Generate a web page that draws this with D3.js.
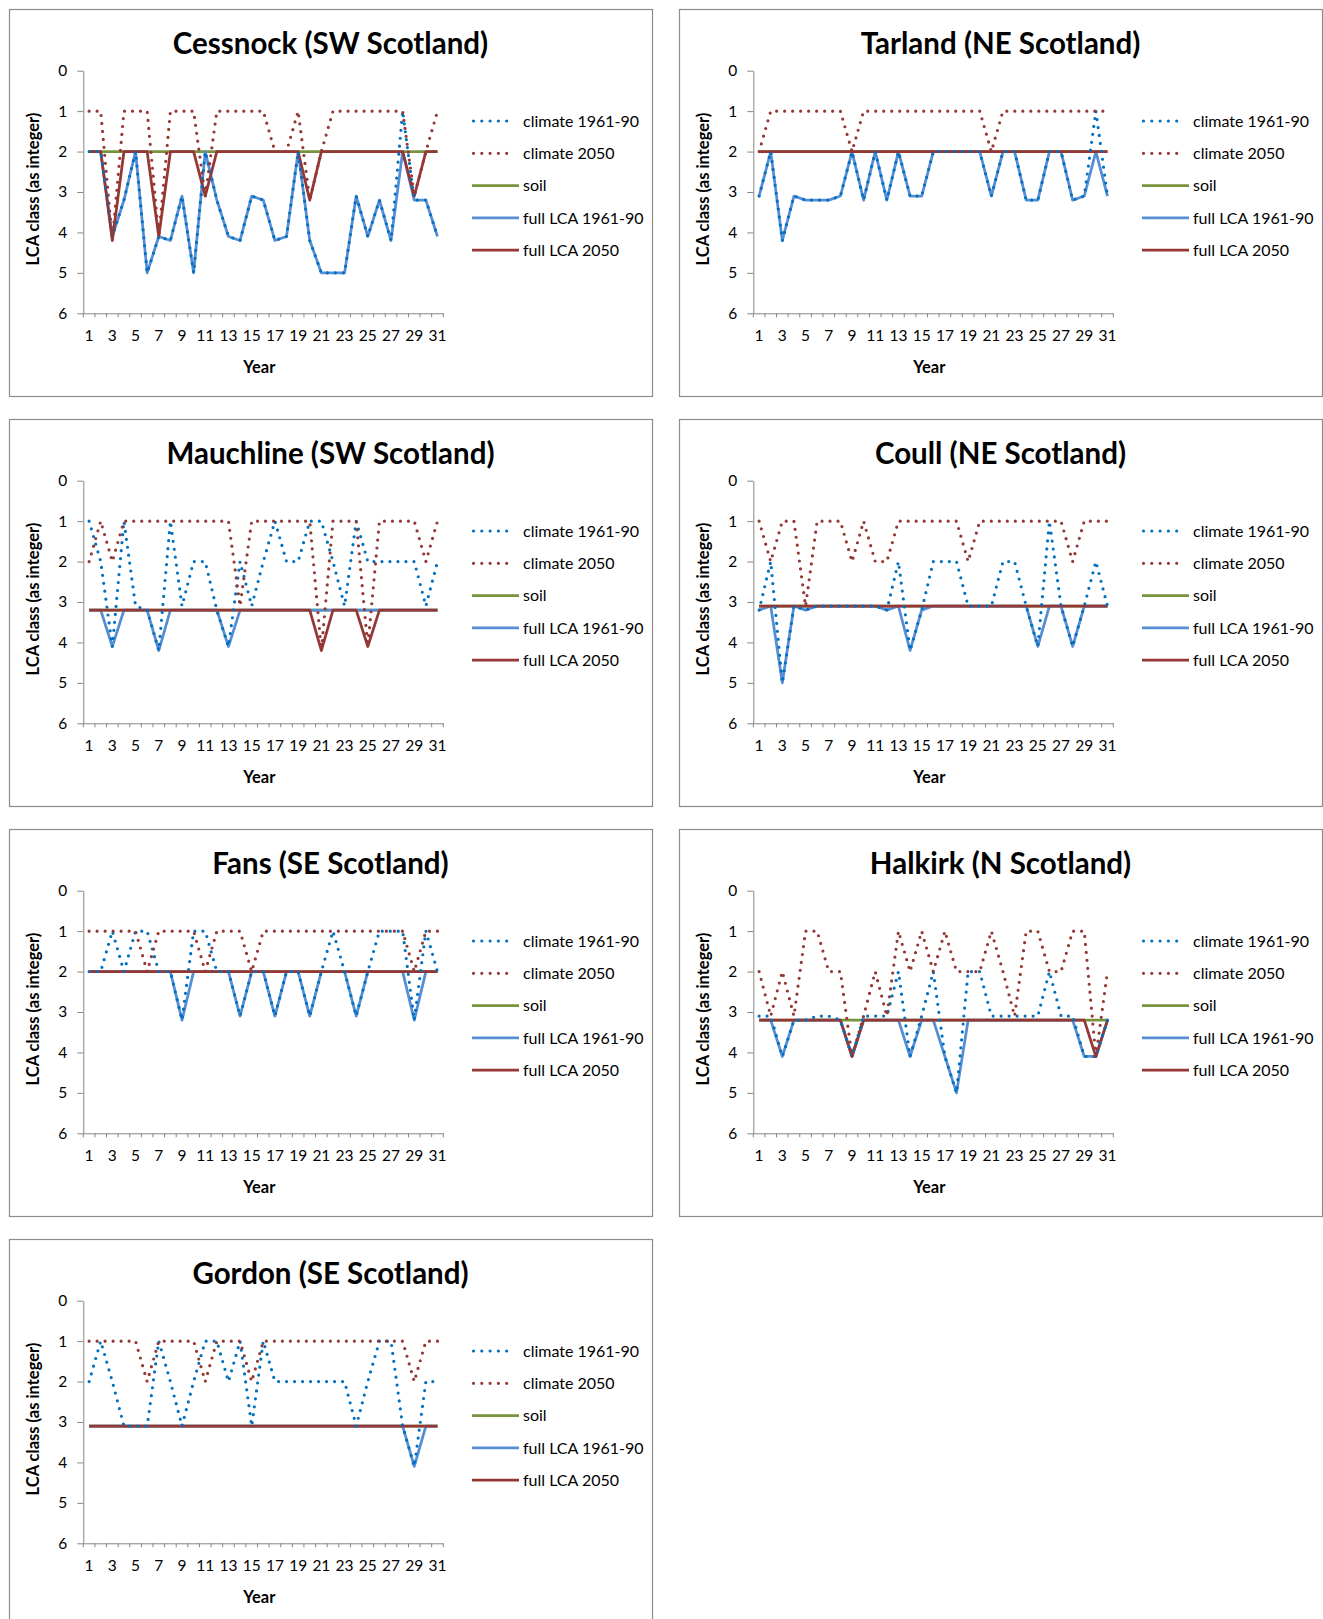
<!DOCTYPE html>
<html>
<head>
<meta charset="utf-8">
<script src="https://cdn.jsdelivr.net/npm/d3@7"></script>
<style>
  body { margin: 0; background: #fff; }
  svg { display: block; font-family: Lato, "Open Sans", sans-serif; }
</style>
</head>
<body>
<div id="chart"></div>
<script>
// categories
var years = [1,2,3,4,5,6,7,8,9,10,11,12,13,14,15,16,17,18,19,20,21,22,23,24,25,26,27,28,29,30,31];
var yTicks = [0,1,2,3,4,5,6];
var seriesNames = ["climate 1961-90", "climate 2050", "soil", "full LCA 1961-90", "full LCA 2050"];

// Cessnock (SW Scotland)
var cessnockClim6190 = [2,2,4.1,3.2,2,5,4.1,4.2,3.1,5,2,3.2,4.1,4.2,3.1,3.2,4.2,4.1,2,4.2,5,5,5,3.1,4.1,3.2,4.2,1,3.2,3.2,4.1];
var cessnockClim2050 = [1,1,4.2,1,1,1,4.1,1,1,1,3.1,1,1,1,1,1,2,2,1,3.2,2,1,1,1,1,1,1,1,3.1,2,1];
var cessnockSoil     = [2,2,2,2,2,2,2,2,2,2,2,2,2,2,2,2,2,2,2,2,2,2,2,2,2,2,2,2,2,2,2];
var cessnockFull6190 = [2,2,4.1,3.2,2,5,4.1,4.2,3.1,5,2,3.2,4.1,4.2,3.1,3.2,4.2,4.1,2,4.2,5,5,5,3.1,4.1,3.2,4.2,2,3.2,3.2,4.1];
var cessnockFull2050 = [2,2,4.2,2,2,2,4.1,2,2,2,3.1,2,2,2,2,2,2,2,2,3.2,2,2,2,2,2,2,2,2,3.1,2,2];

// Tarland (NE Scotland)
var tarlandClim6190 = [3.1,2,4.2,3.1,3.2,3.2,3.2,3.1,2,3.2,2,3.2,2,3.1,3.1,2,2,2,2,2,3.1,2,2,3.2,3.2,2,2,3.2,3.1,1,3.1];
var tarlandClim2050 = [2,1,1,1,1,1,1,1,2,1,1,1,1,1,1,1,1,1,1,1,2,1,1,1,1,1,1,1,1,1,1];
var tarlandSoil     = [2,2,2,2,2,2,2,2,2,2,2,2,2,2,2,2,2,2,2,2,2,2,2,2,2,2,2,2,2,2,2];
var tarlandFull6190 = [3.1,2,4.2,3.1,3.2,3.2,3.2,3.1,2,3.2,2,3.2,2,3.1,3.1,2,2,2,2,2,3.1,2,2,3.2,3.2,2,2,3.2,3.1,2,3.1];
var tarlandFull2050 = [2,2,2,2,2,2,2,2,2,2,2,2,2,2,2,2,2,2,2,2,2,2,2,2,2,2,2,2,2,2,2];

// Mauchline (SW Scotland)
var mauchlineClim6190 = [1,2,4.1,1,3.1,3.2,4.2,1,3.1,2,2,3.2,4.1,2,3.1,2,1,2,2,1,1,2,3.1,1,2,2,2,2,2,3.1,2];
var mauchlineClim2050 = [2,1,2,1,1,1,1,1,1,1,1,1,1,3.1,1,1,1,1,1,1,4.2,1,1,1,4.1,1,1,1,1,2,1];
var mauchlineSoil     = [3.2,3.2,3.2,3.2,3.2,3.2,3.2,3.2,3.2,3.2,3.2,3.2,3.2,3.2,3.2,3.2,3.2,3.2,3.2,3.2,3.2,3.2,3.2,3.2,3.2,3.2,3.2,3.2,3.2,3.2,3.2];
var mauchlineFull6190 = [3.2,3.2,4.1,3.2,3.2,3.2,4.2,3.2,3.2,3.2,3.2,3.2,4.1,3.2,3.2,3.2,3.2,3.2,3.2,3.2,3.2,3.2,3.2,3.2,3.2,3.2,3.2,3.2,3.2,3.2,3.2];
var mauchlineFull2050 = [3.2,3.2,3.2,3.2,3.2,3.2,3.2,3.2,3.2,3.2,3.2,3.2,3.2,3.2,3.2,3.2,3.2,3.2,3.2,3.2,4.2,3.2,3.2,3.2,4.1,3.2,3.2,3.2,3.2,3.2,3.2];

// Coull (NE Scotland)
var coullClim6190 = [3.2,2,5,3.1,3.2,3.1,3.1,3.1,3.1,3.1,3.1,3.2,2,4.2,3.2,2,2,2,3.1,3.1,3.1,2,2,3.1,4.1,1,3.1,4.1,3.1,2,3.1];
var coullClim2050 = [1,2,1,1,3.1,1,1,1,2,1,2,2,1,1,1,1,1,1,2,1,1,1,1,1,1,1,1,2,1,1,1];
var coullSoil     = [3.1,3.1,3.1,3.1,3.1,3.1,3.1,3.1,3.1,3.1,3.1,3.1,3.1,3.1,3.1,3.1,3.1,3.1,3.1,3.1,3.1,3.1,3.1,3.1,3.1,3.1,3.1,3.1,3.1,3.1,3.1];
var coullFull6190 = [3.2,3.1,5,3.1,3.2,3.1,3.1,3.1,3.1,3.1,3.1,3.2,3.1,4.2,3.2,3.1,3.1,3.1,3.1,3.1,3.1,3.1,3.1,3.1,4.1,3.1,3.1,4.1,3.1,3.1,3.1];
var coullFull2050 = [3.1,3.1,3.1,3.1,3.1,3.1,3.1,3.1,3.1,3.1,3.1,3.1,3.1,3.1,3.1,3.1,3.1,3.1,3.1,3.1,3.1,3.1,3.1,3.1,3.1,3.1,3.1,3.1,3.1,3.1,3.1];

// Fans (SE Scotland)
var fansClim6190 = [2,2,1,2,1,1,2,2,3.2,1,1,2,2,3.1,2,2,3.1,2,2,3.1,2,1,2,3.1,2,1,1,1,3.2,1,2];
var fansClim2050 = [1,1,1,1,1,2,1,1,1,1,2,1,1,1,2,1,1,1,1,1,1,1,1,1,1,1,1,1,2,1,1];
var fansSoil     = [2,2,2,2,2,2,2,2,2,2,2,2,2,2,2,2,2,2,2,2,2,2,2,2,2,2,2,2,2,2,2];
var fansFull6190 = [2,2,2,2,2,2,2,2,3.2,2,2,2,2,3.1,2,2,3.1,2,2,3.1,2,2,2,3.1,2,2,2,2,3.2,2,2];
var fansFull2050 = [2,2,2,2,2,2,2,2,2,2,2,2,2,2,2,2,2,2,2,2,2,2,2,2,2,2,2,2,2,2,2];

// Halkirk (N Scotland)
var halkirkClim6190 = [3.1,3.1,4.1,3.2,3.2,3.1,3.1,3.2,4.1,3.1,3.1,3.1,2,4.1,3.1,2,4.1,5,2,2,3.1,3.1,3.1,3.1,3.1,2,3.1,3.1,4.1,4.1,3.2];
var halkirkClim2050 = [2,3.1,2,3.1,1,1,2,2,4.1,3.1,2,3.1,1,2,1,2,1,2,2,2,1,2,3.1,1,1,2,2,1,1,4.1,2];
var halkirkSoil     = [3.2,3.2,3.2,3.2,3.2,3.2,3.2,3.2,3.2,3.2,3.2,3.2,3.2,3.2,3.2,3.2,3.2,3.2,3.2,3.2,3.2,3.2,3.2,3.2,3.2,3.2,3.2,3.2,3.2,3.2,3.2];
var halkirkFull6190 = [3.2,3.2,4.1,3.2,3.2,3.2,3.2,3.2,4.1,3.2,3.2,3.2,3.2,4.1,3.2,3.2,4.1,5,3.2,3.2,3.2,3.2,3.2,3.2,3.2,3.2,3.2,3.2,4.1,4.1,3.2];
var halkirkFull2050 = [3.2,3.2,3.2,3.2,3.2,3.2,3.2,3.2,4.1,3.2,3.2,3.2,3.2,3.2,3.2,3.2,3.2,3.2,3.2,3.2,3.2,3.2,3.2,3.2,3.2,3.2,3.2,3.2,3.2,4.1,3.2];

// Gordon (SE Scotland)
var gordonClim6190 = [2,1,2,3.1,3.1,3.1,1,2,3.1,2,1,1,2,1,3.1,1,2,2,2,2,2,2,2,3.1,2,1,1,3.1,4.1,2,2];
var gordonClim2050 = [1,1,1,1,1,2,1,1,1,1,2,1,1,1,2,1,1,1,1,1,1,1,1,1,1,1,1,1,2,1,1];
var gordonSoil     = [3.1,3.1,3.1,3.1,3.1,3.1,3.1,3.1,3.1,3.1,3.1,3.1,3.1,3.1,3.1,3.1,3.1,3.1,3.1,3.1,3.1,3.1,3.1,3.1,3.1,3.1,3.1,3.1,3.1,3.1,3.1];
var gordonFull6190 = [3.1,3.1,3.1,3.1,3.1,3.1,3.1,3.1,3.1,3.1,3.1,3.1,3.1,3.1,3.1,3.1,3.1,3.1,3.1,3.1,3.1,3.1,3.1,3.1,3.1,3.1,3.1,3.1,4.1,3.1,3.1];
var gordonFull2050 = [3.1,3.1,3.1,3.1,3.1,3.1,3.1,3.1,3.1,3.1,3.1,3.1,3.1,3.1,3.1,3.1,3.1,3.1,3.1,3.1,3.1,3.1,3.1,3.1,3.1,3.1,3.1,3.1,3.1,3.1,3.1];

// table of panels built from the arrays above
var sites = [
  {title: "Cessnock (SW Scotland)",  col: 0, row: 0, s: [cessnockClim6190, cessnockClim2050, cessnockSoil, cessnockFull6190, cessnockFull2050]},
  {title: "Tarland (NE Scotland)",   col: 1, row: 0, s: [tarlandClim6190, tarlandClim2050, tarlandSoil, tarlandFull6190, tarlandFull2050]},
  {title: "Mauchline (SW Scotland)", col: 0, row: 1, s: [mauchlineClim6190, mauchlineClim2050, mauchlineSoil, mauchlineFull6190, mauchlineFull2050]},
  {title: "Coull (NE Scotland)",     col: 1, row: 1, s: [coullClim6190, coullClim2050, coullSoil, coullFull6190, coullFull2050]},
  {title: "Fans (SE Scotland)",      col: 0, row: 2, s: [fansClim6190, fansClim2050, fansSoil, fansFull6190, fansFull2050]},
  {title: "Halkirk (N Scotland)",    col: 1, row: 2, s: [halkirkClim6190, halkirkClim2050, halkirkSoil, halkirkFull6190, halkirkFull2050]},
  {title: "Gordon (SE Scotland)",    col: 0, row: 3, s: [gordonClim6190, gordonClim2050, gordonSoil, gordonFull6190, gordonFull2050]}
];

// series styles, same order as seriesNames
var colors = ["#0070c0", "#953735", "#77933c", "#558ed5", "#953735"];
var dotted = [true, true, false, false, false];
var drawOrder = [2, 3, 4, 0, 1];

let svgWidth = 1323;
let svgHeight = 1619;
let panelW = 643, panelH = 387;
let colX = [9, 679];
let rowY = [9, 419, 829, 1239];
let axisColor = "#868686";

let svg = d3.select("#chart")
  .append("svg")
  .attr("width", svgWidth)
  .attr("height", svgHeight);

sites.forEach(function(site) {
  let g = svg.append("g")
    .attr("transform", "translate(" + colX[site.col] + "," + rowY[site.row] + ")");

  g.append("rect")
    .attr("x", 0.5).attr("y", 0.5)
    .attr("width", panelW).attr("height", panelH)
    .attr("fill", "#fff")
    .attr("stroke", "#8c8c8c")
    .attr("stroke-width", 1.2);

  let x = d3.scaleBand()
    .domain(years)
    .range([74.3, 434.3]);

  let y = d3.scaleLinear()
    .domain([0, 6])
    .range([61.7, 304.3]);

  // title
  g.append("text")
    .attr("x", panelW / 2)
    .attr("y", 45)
    .attr("text-anchor", "middle")
    .attr("font-size", 29.5)
    .attr("font-weight", "bold")
    .text(site.title);

  // y axis
  let yAxis = g.append("g")
    .attr("transform", "translate(74.3,0)")
    .call(d3.axisLeft(y).tickValues(yTicks).tickFormat(d3.format("d"))
      .tickSize(6).tickPadding(10).tickSizeOuter(0));
  yAxis.selectAll("text").attr("font-size", 15.5).attr("font-family", "Lato").attr("fill", "#000");

  // x axis, labels on odd years, tick marks between categories
  let xAxis = g.append("g")
    .attr("transform", "translate(0,304.3)")
    .call(d3.axisBottom(x).tickSize(0).tickPadding(17).tickSizeOuter(0)
      .tickFormat((d) => d % 2 == 1 ? d : ""));
  xAxis.selectAll("text").attr("font-size", 15.5).attr("font-family", "Lato").attr("fill", "#000");
  xAxis.selectAll(".bound")
    .data(years.concat(["end"]))
    .enter()
    .append("line")
    .attr("class", "bound")
    .attr("x1", (d) => d == "end" ? x.range()[1] : x(d))
    .attr("x2", (d) => d == "end" ? x.range()[1] : x(d))
    .attr("y1", 0).attr("y2", 4);

  g.selectAll(".domain, .tick line, .bound")
    .attr("stroke", axisColor)
    .attr("stroke-width", 1);

  // axis titles
  g.append("text")
    .attr("transform", "translate(30," + (y(3) - 3) + ") rotate(-90)")
    .attr("text-anchor", "middle")
    .attr("font-size", 16.5)
    .attr("font-weight", "bold")
    .text("LCA class (as integer)");

  g.append("text")
    .attr("x", 250.3)
    .attr("y", 364)
    .attr("text-anchor", "middle")
    .attr("font-size", 16.5)
    .attr("font-weight", "bold")
    .text("Year");

  // lines
  let line = d3.line()
    .x((d, i) => x(years[i]) + x.bandwidth() / 2)
    .y((d) => y(d));

  drawOrder.forEach(function(k) {
    g.append("path")
      .datum(site.s[k])
      .attr("d", line)
      .attr("fill", "none")
      .attr("stroke", colors[k])
      .attr("stroke-width", dotted[k] ? 3.2 : 2.75)
      .attr("stroke-linejoin", "round")
      .attr("stroke-linecap", dotted[k] ? "round" : "butt")
      .attr("stroke-dasharray", dotted[k] ? "0 8" : null);
  });

  // legend
  let leg = g.selectAll(".leg")
    .data(seriesNames)
    .enter()
    .append("g")
    .attr("class", "leg")
    .attr("transform", (d, i) => "translate(463," + (112 + i * 32.3) + ")");

  leg.append("line")
    .attr("x1", (d, i) => dotted[i] ? 1.5 : 0)
    .attr("x2", (d, i) => dotted[i] ? 43 : 47)
    .attr("stroke", (d, i) => colors[i])
    .attr("stroke-width", (d, i) => dotted[i] ? 3.2 : 2.75)
    .attr("stroke-linecap", (d, i) => dotted[i] ? "round" : "butt")
    .attr("stroke-dasharray", (d, i) => dotted[i] ? "0 8.3" : null);

  leg.append("text")
    .attr("x", 51)
    .attr("dy", "0.35em")
    .attr("font-size", 16)
    .text((d) => d);
});
</script>
</body>
</html>
